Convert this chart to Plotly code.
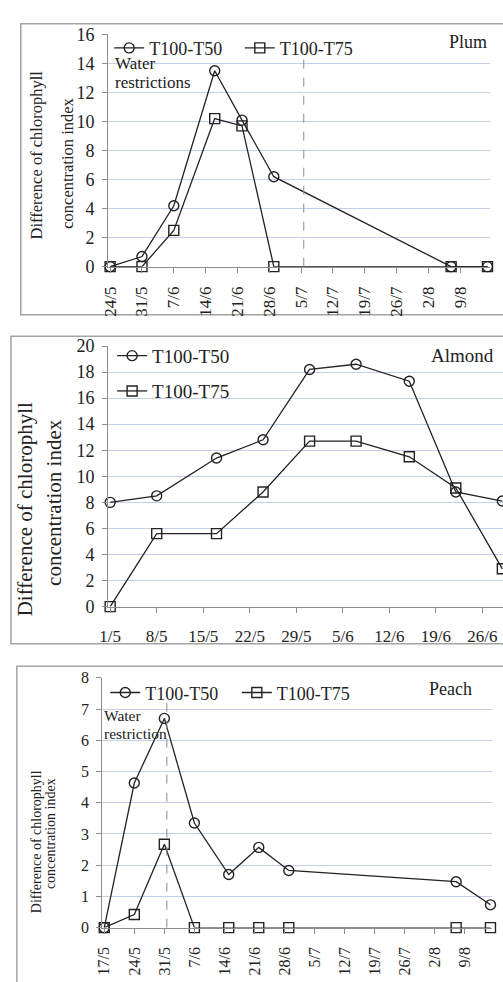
import plotly.graph_objects as go
from datetime import datetime, timedelta

# ---------------- data ----------------
plum_dates = ["2015-05-24", "2015-05-31", "2015-06-07", "2015-06-16", "2015-06-22",
              "2015-06-29", "2015-08-07", "2015-08-15"]
plum_t50 = [0, 0.7, 4.2, 13.5, 10.1, 6.2, 0, 0]
plum_t75 = [0, 0, 2.5, 10.2, 9.7, 0, 0, 0]
plum_restriction = "2015-07-05 14:00"

almond_dates = ["2015-05-01", "2015-05-08", "2015-05-17", "2015-05-24", "2015-05-31",
                "2015-06-07", "2015-06-15", "2015-06-22", "2015-06-29"]
almond_t50 = [8.0, 8.5, 11.4, 12.8, 18.2, 18.6, 17.3, 8.8, 8.1]
almond_t75 = [0, 5.6, 5.6, 8.8, 12.7, 12.7, 11.5, 9.1, 2.9]

peach_dates = ["2015-05-17", "2015-05-24", "2015-05-31", "2015-06-07", "2015-06-15",
               "2015-06-22", "2015-06-29", "2015-08-07", "2015-08-15"]
peach_t50 = [0, 4.63, 6.7, 3.35, 1.7, 2.57, 1.83, 1.47, 0.73]
peach_t75 = [0, 0.42, 2.67, 0, 0, 0, 0, 0, 0]
peach_restriction = "2015-05-31 14:00"

series_names = ["T100-T50", "T100-T75"]
ytitle = ["Difference of chlorophyll", "concentration index"]

# ---------------- layout helpers ----------------
W, H = 503, 982
FONT = "Liberation Serif"
INK = "#222222"
GRID = "#c4d0ea"
AXIS = "#8c8c8c"


def px_x(p):
    return p / W


def px_y(p):
    return 1 - p / H


def drange(first, left_days, right_days):
    d0 = datetime.strptime(first, "%Y-%m-%d")
    a = d0 + timedelta(days=left_days)
    b = d0 + timedelta(days=right_days)
    return [a.strftime("%Y-%m-%d %H:%M:%S"), b.strftime("%Y-%m-%d %H:%M:%S")]


fig = go.Figure()

panels = [
    dict(dates=plum_dates, s1=plum_t50, s2=plum_t75, xa="x", ya="y", lg=("legend", "legend2")),
    dict(dates=almond_dates, s1=almond_t50, s2=almond_t75, xa="x2", ya="y2", lg=("legend3", "legend4")),
    dict(dates=peach_dates, s1=peach_t50, s2=peach_t75, xa="x3", ya="y3", lg=("legend5", "legend6")),
]

for p in panels:
    for name, vals, sym, lg in [(series_names[0], p["s1"], "circle-open", p["lg"][0]),
                                (series_names[1], p["s2"], "square-open", p["lg"][1])]:
        fig.add_trace(go.Scatter(
            x=p["dates"], y=vals, name=name, mode="lines+markers",
            xaxis=p["xa"], yaxis=p["ya"], legend=lg, cliponaxis=False,
            line=dict(color=INK, width=1.3),
            marker=dict(symbol=sym, size=10, color=INK, line=dict(width=1.4, color=INK)),
        ))


def xaxis_cfg(dom, rng, tick0, angle, fsize, anchor, standoff):
    return dict(domain=dom, range=rng, type="date", tick0=tick0, dtick=7 * 86400000,
                tickformat="%-d/%-m", tickangle=angle, showgrid=False, zeroline=False,
                showline=True, linecolor=AXIS, linewidth=1, ticks="outside", ticklen=5,
                tickcolor=AXIS, anchor=anchor, ticklabelstandoff=standoff,
                tickfont=dict(family=FONT, size=fsize, color=INK))


def yaxis_cfg(dom, rng, dt, anchor, fsize):
    return dict(domain=dom, range=rng, dtick=dt, anchor=anchor, showgrid=True, gridcolor=GRID,
                gridwidth=1, zeroline=False, showline=True, linecolor=AXIS, linewidth=1,
                ticks="outside", ticklen=5, tickcolor=AXIS, ticklabelstandoff=4,
                tickfont=dict(family=FONT, size=fsize, color=INK))


layout = dict(
    width=W, height=H, margin=dict(l=0, r=0, t=0, b=0),
    paper_bgcolor="white", plot_bgcolor="white", showlegend=True,
    font=dict(family=FONT, color=INK),
    xaxis=xaxis_cfg([px_x(101), px_x(490)], drange(plum_dates[0], -0.43, 83.6), plum_dates[0], -90, 17, "y", 7),
    yaxis=yaxis_cfg([px_y(262), px_y(25)], [0, 16], 2, "x", 18),
    xaxis2=xaxis_cfg([px_x(101), 1.0], drange(almond_dates[0], -0.3, 59.1), almond_dates[0], 0, 17, "y2", 9),
    yaxis2=yaxis_cfg([px_y(609), px_y(343)], [0, 20], 2, "x2", 18),
    xaxis3=xaxis_cfg([px_x(95), px_x(492)], drange(peach_dates[0], -0.46, 90.4), peach_dates[0], -90, 16, "y3", 7),
    yaxis3=yaxis_cfg([px_y(936.7), px_y(681.7)], [0, 8], 1, "x3", 16),
)


def legend_cfg(x, y, fs):
    return dict(x=px_x(x), y=px_y(y), xanchor="left", yanchor="middle", bgcolor="rgba(0,0,0,0)",
                borderwidth=0, font=dict(family=FONT, size=fs, color=INK), itemwidth=30,
                orientation="h", tracegroupgap=0)


layout["legend"] = legend_cfg(102, 39, 18)
layout["legend2"] = legend_cfg(235, 39, 18)
layout["legend3"] = legend_cfg(105, 353, 19)
layout["legend4"] = legend_cfg(105, 389, 19)
layout["legend5"] = legend_cfg(98, 697, 18)
layout["legend6"] = legend_cfg(232, 697, 18)

fig.update_layout(**layout)

# panel borders
for (x0, y0, x1, y1) in [(12, 14, 520, 311), (2, 333, 520, 647), (8, 670, 520, 1000)]:
    fig.add_shape(type="rect", xref="paper", yref="paper", x0=px_x(x0), x1=px_x(x1),
                  y0=px_y(y1), y1=px_y(y0), line=dict(color="#a3a3a3", width=1.5),
                  fillcolor="rgba(0,0,0,0)", layer="below")

# water restriction dashed lines
for xr, xa, ya in [(plum_restriction, "x", "y"), (peach_restriction, "x3", "y3")]:
    fig.add_shape(type="line", xref=xa, yref=ya + " domain", x0=xr, x1=xr, y0=0, y1=0.9,
                  line=dict(color="#8c8c8c", width=1, dash="dash"))

# y-axis titles: (x line1, y line1, x line2, y line2, font size)
for (xa1, ya1, xa2, ya2, fs) in [(29, 148, 60, 156, 16.5), (16, 510, 46, 503, 21), (28, 849, 43, 841, 14)]:
    for xx, yy, t in [(xa1, ya1, ytitle[0]), (xa2, ya2, ytitle[1])]:
        fig.add_annotation(x=px_x(xx), y=px_y(yy), xref="paper", yref="paper", text=t,
                           textangle=-90, showarrow=False, xanchor="center", yanchor="middle",
                           font=dict(family=FONT, size=fs, color=INK))

# text labels
labels = [
    ("Plum", 488, 33, 18, "right"),
    ("Almond", 495, 353, 19, "right"),
    ("Peach", 472, 693, 18, "right"),
    ("Water", 107, 55, 17, "left"),
    ("restrictions", 107, 74, 17, "left"),
    ("Water", 96, 720, 15.5, "left"),
    ("restriction", 96, 739, 15.5, "left"),
]
for t, x, y, fs, anc in labels:
    fig.add_annotation(x=px_x(x), y=px_y(y), xref="paper", yref="paper", text=t,
                       showarrow=False, xanchor=anc, yanchor="middle", borderpad=0,
                       font=dict(family=FONT, size=fs, color=INK))

fig.write_html("out.html")
